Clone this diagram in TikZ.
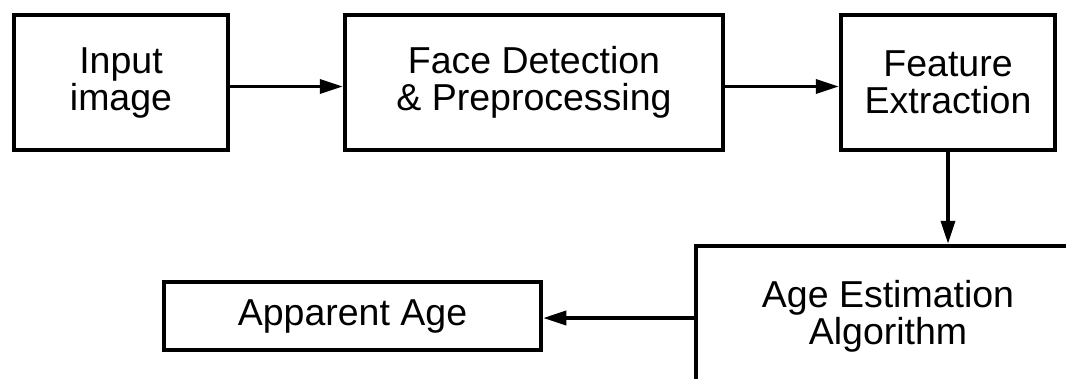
\documentclass[tikz,border=0pt]{standalone}
\usepackage{fontspec}
\setmainfont{Liberation Sans}
\usetikzlibrary{arrows.meta}
\begin{document}
\begin{tikzpicture}[x=1pt,y=-1pt,
  blockbox/.style={draw, line width=4.5pt, inner sep=0pt, align=center,
    font=\fontsize{37.5}{37}\selectfont},
  flow/.style={line width=3.5pt, -{Triangle[length=23pt,width=14pt]}}]
  \clip (0,0) rectangle (1066,378);
  \useasboundingbox (0,0) rectangle (1066,378);
  \fill[white] (0,0) rectangle (1066,378);

  \node[blockbox, minimum width=214pt, minimum height=135pt] (inp) at (121,82.5) {Input\\image};
  \node[blockbox, minimum width=378pt, minimum height=135pt] (fdp) at (534,82.5) {Face Detection\\\& Preprocessing};
  \node[blockbox, minimum width=214pt, minimum height=135pt] (fex) at (948,82.5) {Feature\\Extraction};
  \node[blockbox, minimum width=384pt, minimum height=140pt] (age) at (888,316) {Age Estimation\\Algorithm};
  \node[blockbox, minimum width=377pt, minimum height=68pt] (app) at (352.5,316) {Apparent Age};

  \draw[flow] ([yshift=-4pt]inp.east) -- ([yshift=-4pt]fdp.west);
  \draw[flow] ([yshift=-4pt]fdp.east) -- ([yshift=-4pt]fex.west);
  \draw[flow] (fex.south) -- (fex.south |- age.north);
  \draw[flow] ([yshift=-2pt]age.west |- app.east) -- ([yshift=-2pt]app.east);
\end{tikzpicture}
\end{document}
